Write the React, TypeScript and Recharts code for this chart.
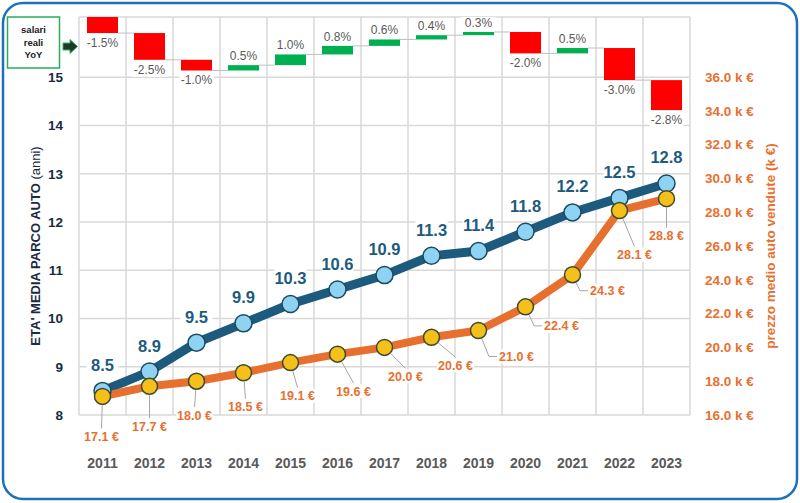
import React from 'react';
import { ComposedChart, Line, Bar, XAxis, YAxis, CartesianGrid, LabelList } from 'recharts';

const years = ['2011', '2012', '2013', '2014', '2015', '2016', '2017', '2018', '2019', '2020', '2021', '2022', '2023'];
const etaMedia = [8.5, 8.9, 9.5, 9.9, 10.3, 10.6, 10.9, 11.3, 11.4, 11.8, 12.2, 12.5, 12.8];
const prezzoMedio = [17.1, 17.7, 18.0, 18.5, 19.1, 19.6, 20.0, 20.6, 21.0, 22.4, 24.3, 28.1, 28.8];
const salariYoY = [-1.5, -2.5, -1.0, 0.5, 1.0, 0.8, 0.6, 0.4, 0.3, -2.0, 0.5, -3.0, -2.8];
const etaTicks = [8, 9, 10, 11, 12, 13, 14, 15];
const prezzoTicks = [16, 18, 20, 22, 24, 26, 28, 30, 32, 34, 36];

let cumul = 0;
const data = years.map((year, i) => {
  const start = cumul;
  cumul = Math.round((cumul + salariYoY[i]) * 10) / 10;
  const end = cumul;
  return {
    year,
    eta: etaMedia[i],
    prezzo: prezzoMedio[i],
    delta: salariYoY[i],
    wf: [Math.min(start, end), Math.max(start, end)],
  };
});

const BLUE = '#1d5b7e';
const ORANGE = '#e8702f';
const NAVY = '#1b2a41';
const GRAY = '#595959';

// label placement (style): [dx, dy, leader mode]
const ORANGE_LABEL_POS: [number, number, string][] = [
  [-1, 40, 'top'], [0, 40, 'top'], [-2, 34, 'top'], [2, 34, 'top'], [7, 33, 'top'],
  [16, 37, 'top'], [21, 29, 'top'], [24, 28, 'top'], [38, 26, 'left'], [36, 19, 'left'],
  [35, 16, 'left'], [15, 44, 'top'], [0, 37, 'top'],
];

const WaterfallBar = (props: any) => {
  const { x, y, width, height, payload, index } = props;
  const top = Math.min(y, y + height);
  const h = Math.abs(height);
  const neg = payload.delta < 0;
  const fill = neg ? '#ff0000' : '#00b050';
  const endY = neg ? top + h : top;
  const label = `${payload.delta.toFixed(1)}%`;
  const ty = neg ? top + h + 14 : top - 5;
  return (
    <g>
      {index < data.length - 1 && (
        <line x1={x + width} x2={x + width + 16} y1={endY} y2={endY} stroke="#bfbfbf" strokeWidth={1} />
      )}
      <rect x={x} y={top} width={width} height={Math.max(h, 1)} fill={fill} />
      <rect x={x + width / 2 - 17} y={ty - 10} width={34} height={13} fill="#fff" />
      <text x={x + width / 2} y={ty} textAnchor="middle" fill={GRAY} fontSize={12} fontFamily="Liberation Sans, Arial, sans-serif">
        {label}
      </text>
    </g>
  );
};

const BlueLabel = (props: any) => {
  const { x, y, value } = props;
  const ly = y - 26;
  return (
    <g>
      <rect x={x - 16} y={ly - 10} width={32} height={20} fill="#fff" />
      <text x={x} y={ly} dy="0.36em" textAnchor="middle" fill={BLUE} fontSize={16.5} fontWeight={700}>
        {Number(value).toFixed(1)}
      </text>
    </g>
  );
};

const OrangeLabel = (props: any) => {
  const { x, y, value, index } = props;
  const [dx, dy, mode] = ORANGE_LABEL_POS[index];
  const lx = x + dx;
  const ly = y + dy;
  const w = 37;
  const h = 14;
  let d = '';
  if (mode === 'top') {
    const ex = lx;
    const ey = ly - h / 2 - 1;
    const ang = Math.atan2(ey - y, ex - x);
    d = `M${x + Math.cos(ang) * 9},${y + Math.sin(ang) * 9}L${ex},${ey}`;
  } else {
    const ex = lx - w / 2 - 1;
    const bx = ex - 8;
    const ang = Math.atan2(ly - y, bx - x);
    d = `M${x + Math.cos(ang) * 9},${y + Math.sin(ang) * 9}L${bx},${ly}L${ex},${ly}`;
  }
  return (
    <g>
      <path d={d} stroke="#a6a6a6" strokeWidth={1} fill="none" />
      <rect x={lx - w / 2} y={ly - h / 2} width={w} height={h} fill="#fff" />
      <text x={lx} y={ly} dy="0.36em" textAnchor="middle" fill={ORANGE} fontSize={12.5} fontWeight={700}>
        {`${Number(value).toFixed(1)} €`}
      </text>
    </g>
  );
};

const XTick = (props: any) => {
  const { x, y, payload } = props;
  return (
    <text x={x} y={y} dy={53} textAnchor="middle" fill={GRAY} fontSize={14} fontWeight={700}>
      {payload.value}
    </text>
  );
};

const LeftTitle = (props: any) => {
  const { viewBox } = props;
  const cx = viewBox.x + 35;
  const cy = viewBox.y + viewBox.height / 2 + 30;
  return (
    <text x={cx} y={cy} transform={`rotate(-90 ${cx} ${cy})`} textAnchor="middle" dy="0.36em" fill={NAVY} fontSize={13} fontWeight={700}>
      ETA' MEDIA PARCO AUTO <tspan fontWeight={400}>(anni)</tspan>
    </text>
  );
};

const RightTitle = (props: any) => {
  const { viewBox } = props;
  const cx = viewBox.x + 80;
  const cy = viewBox.y + viewBox.height / 2 + 30;
  return (
    <text x={cx} y={cy} transform={`rotate(-90 ${cx} ${cy})`} textAnchor="middle" dy="0.36em" fill={ORANGE} fontSize={13.5} fontWeight={700}>
      prezzo medio auto vendute (k €)
    </text>
  );
};

export default function App() {
  return (
    <div
      style={{
        position: 'absolute',
        left: 0,
        top: 0,
        width: 800,
        height: 503,
        background: '#fff',
        fontFamily: 'Liberation Sans, Arial, sans-serif',
      }}
    >
      <ComposedChart width={800} height={503} data={data} margin={{ top: 17, right: 0, bottom: 0, left: 0 }}>
        <CartesianGrid
          yAxisId="left"
          stroke="#d9d9d9"
          strokeWidth={1.5}
          verticalCoordinatesGenerator={(p: any) =>
            Array.from({ length: years.length + 1 }, (_, i) => p.offset.left + (i * p.offset.width) / years.length)
          }
        />
        <XAxis dataKey="year" height={88} axisLine={false} tickLine={false} tickSize={0} tickMargin={0} tick={<XTick />} interval={0} />
        <YAxis
          yAxisId="left"
          orientation="left"
          width={79}
          domain={[8, 16.25]}
          ticks={etaTicks}
          allowDataOverflow
          axisLine={false}
          tickLine={false}
          tickSize={0}
          tickMargin={16}
          tick={{ fill: NAVY, fontSize: 13.5, fontWeight: 700 }}
          label={<LeftTitle />}
        />
        <YAxis
          yAxisId="right"
          orientation="right"
          width={110}
          domain={[16, 39.55]}
          ticks={prezzoTicks}
          allowDataOverflow
          axisLine={false}
          tickLine={false}
          tickSize={0}
          tickMargin={15}
          tickFormatter={(v: number) => `${v.toFixed(1)} k €`}
          tick={{ fill: ORANGE, fontSize: 13.5, fontWeight: 700 }}
          label={<RightTitle />}
        />
        <YAxis yAxisId="wf" hide domain={[-37.2, 0]} allowDataOverflow />
        <Bar yAxisId="wf" dataKey="wf" barSize={31} isAnimationActive={false} shape={<WaterfallBar />} />
        <Line
          yAxisId="left"
          dataKey="eta"
          stroke={BLUE}
          strokeWidth={9}
          dot={{ r: 8.5, fill: '#8fd3f4', stroke: '#1e4a5e', strokeWidth: 1.5 }}
          isAnimationActive={false}
        >
          <LabelList dataKey="eta" content={<BlueLabel />} />
        </Line>
        <Line
          yAxisId="right"
          dataKey="prezzo"
          stroke={ORANGE}
          strokeWidth={8}
          dot={{ r: 8, fill: '#f5c01a', stroke: '#3d4a2c', strokeWidth: 1.5 }}
          isAnimationActive={false}
        >
          <LabelList dataKey="prezzo" content={<OrangeLabel />} />
        </Line>
      </ComposedChart>
      <svg width={800} height={503} style={{ position: 'absolute', left: 0, top: 0, pointerEvents: 'none' }}>
        <rect x={3} y={3} width={794} height={496} rx={20} ry={20} fill="none" stroke="#1f70b8" strokeWidth={2.5} />
        <rect x={7.5} y={17} width={52} height={51} fill="#fff" stroke="#2bab5c" strokeWidth={1.5} />
        <text x={33.5} y={33} textAnchor="middle" fill="#222" fontSize={9.5} fontWeight={700}>salari</text>
        <text x={33.5} y={46} textAnchor="middle" fill="#222" fontSize={9.5} fontWeight={700}>reali</text>
        <text x={33.5} y={58} textAnchor="middle" fill="#222" fontSize={9.5} fontWeight={700}>YoY</text>
        <path d="M63,43 L70,43 L70,39.5 L77.5,46.5 L70,53.5 L70,50 L63,50 Z" fill="#1c3a2a" stroke="#3fae5f" strokeWidth={1} />
      </svg>
    </div>
  );
}
